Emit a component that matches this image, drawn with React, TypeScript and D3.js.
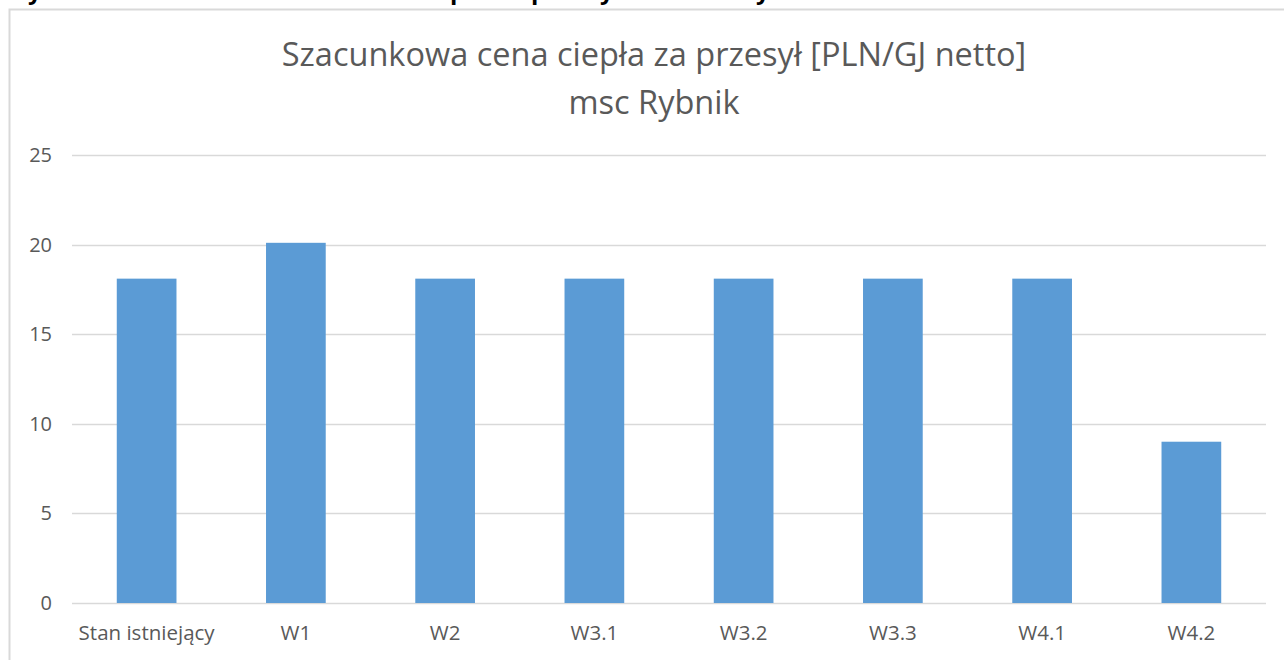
import React, { useEffect, useRef } from "react";
import * as d3 from "d3";

// DATA
const categories = ["Stan istniejący", "W1", "W2", "W3.1", "W3.2", "W3.3", "W4.1", "W4.2"];
const values = [18.1, 20.1, 18.1, 18.1, 18.1, 18.1, 18.1, 9.0];
const yTicks = [0, 5, 10, 15, 20, 25];
const titleLines = ["Szacunkowa cena ciepła za przesył [PLN/GJ netto]", "msc Rybnik"];

export default function App() {
  const ref = useRef<SVGSVGElement | null>(null);

  useEffect(() => {
    const W = 1284;
    const H = 660;
    const svg = d3.select(ref.current);
    svg.selectAll("*").remove();

    const font = "Open Sans, Noto Sans, sans-serif";

    // cut-off text from the page above the chart (only descenders visible)
    const frag = [
      { t: "y", x: 28 },
      { t: "p", x: 450 },
      { t: "p", x: 531 },
      { t: "y", x: 600 },
      { t: "y", x: 756 },
    ];
    svg
      .append("g")
      .selectAll("text")
      .data(frag)
      .join("text")
      .attr("x", (d) => d.x)
      .attr("y", -1)
      .attr("font-family", font)
      .attr("font-weight", "bold")
      .attr("font-size", 24)
      .attr("fill", "#000")
      .text((d) => d.t);

    // chart frame
    svg
      .append("path")
      .attr("d", `M9.5,${H + 5} V9.5 H${W + 5}`)
      .attr("fill", "none")
      .attr("stroke", "#d9d9d9")
      .attr("stroke-width", 2);

    const margin = { left: 72, right: 18, top: 155, bottom: 57 };
    const x = d3
      .scaleBand()
      .domain(categories)
      .range([margin.left, W - margin.right])
      .paddingInner(0.6)
      .paddingOuter(0.3);
    const y = d3.scaleLinear().domain([0, 25]).range([H - margin.bottom, margin.top]);

    // GRID
    svg
      .append("g")
      .selectAll("line")
      .data(yTicks)
      .join("line")
      .attr("x1", margin.left)
      .attr("x2", W - margin.right)
      .attr("y1", (d) => Math.round(y(d)) + 0.5)
      .attr("y2", (d) => Math.round(y(d)) + 0.5)
      .attr("stroke", "#d9d9d9")
      .attr("stroke-width", 1.5);

    // Y LABELS
    svg
      .append("g")
      .selectAll("text")
      .data(yTicks)
      .join("text")
      .attr("x", 52)
      .attr("y", (d) => y(d) + 7)
      .attr("text-anchor", "end")
      .attr("font-family", font)
      .attr("font-size", 20)
      .attr("fill", "#595959")
      .text((d) => d);

    // X LABELS
    svg
      .append("g")
      .selectAll("text")
      .data(categories)
      .join("text")
      .attr("x", (d) => x(d)! + x.bandwidth() / 2)
      .attr("y", 640)
      .attr("text-anchor", "middle")
      .attr("font-family", font)
      .attr("font-size", 20.5)
      .attr("fill", "#595959")
      .text((d) => d);

    // BARS
    svg
      .append("g")
      .selectAll("rect")
      .data(values)
      .join("rect")
      .attr("x", (_, i) => x(categories[i])!)
      .attr("width", x.bandwidth())
      .attr("y", (d) => y(d))
      .attr("height", (d) => y(0) - y(d))
      .attr("fill", "#5b9bd5");

    // TITLE
    svg
      .append("g")
      .selectAll("text")
      .data(titleLines)
      .join("text")
      .attr("x", 654)
      .attr("y", (_, i) => 66 + i * 48)
      .attr("text-anchor", "middle")
      .attr("font-family", font)
      .attr("font-size", 32.5)
      .attr("fill", "#595959")
      .text((d) => d);
  }, []);

  return (
    <svg
      ref={ref}
      width={1284}
      height={660}
      style={{ position: "absolute", left: 0, top: 0, display: "block", background: "#fff" }}
    />
  );
}
